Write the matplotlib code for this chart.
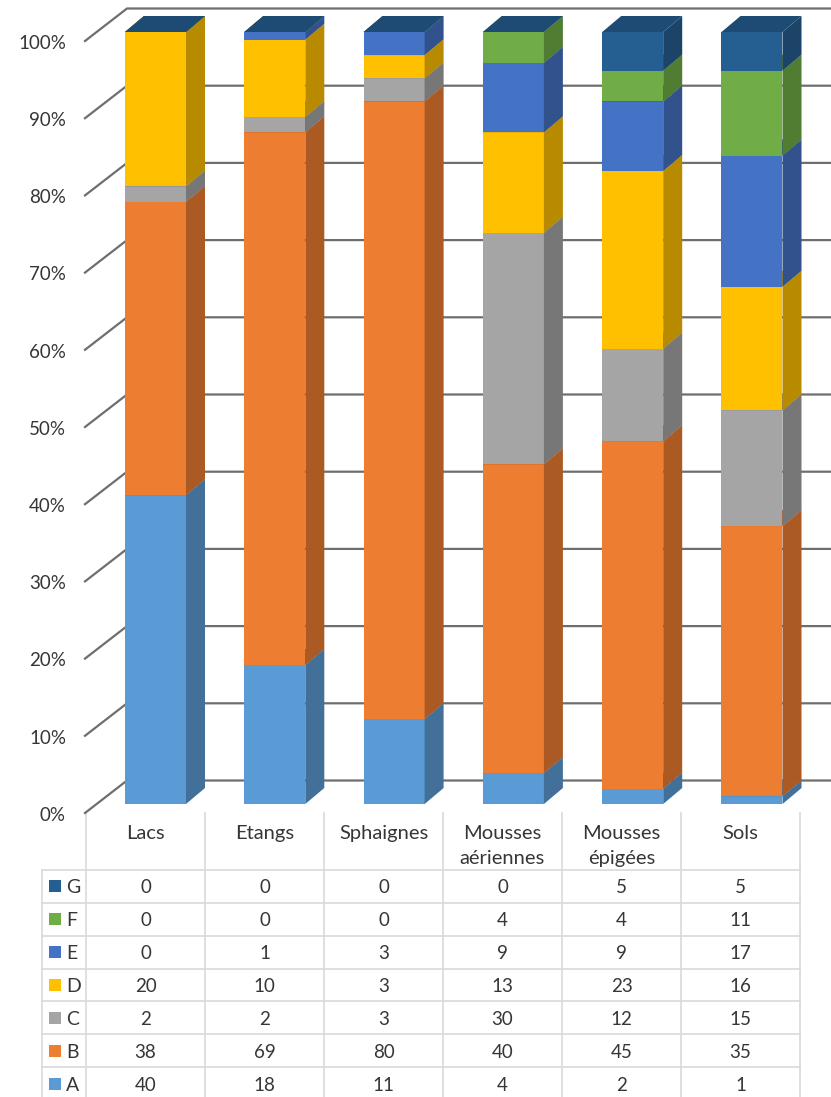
import numpy as np
import matplotlib.pyplot as plt
from matplotlib.patches import Polygon, Rectangle
from matplotlib.colors import to_rgb

plt.rcParams['font.family'] = ['Lato', 'DejaVu Sans']

# data
categories = ['Lacs', 'Etangs', 'Sphaignes', 'Mousses\naériennes', 'Mousses\népigées', 'Sols']
series_names = ['A', 'B', 'C', 'D', 'E', 'F', 'G']
A = [40, 18, 11, 4, 2, 1]
B = [38, 69, 80, 40, 45, 35]
C = [2, 2, 3, 30, 12, 15]
D = [20, 10, 3, 13, 23, 16]
E = [0, 1, 3, 9, 9, 17]
F = [0, 0, 0, 4, 4, 11]
G = [0, 0, 0, 0, 5, 5]
series_values = [A, B, C, D, E, F, G]
colors = ['#5B9BD5', '#ED7D31', '#A5A5A5', '#FFC000', '#4472C4', '#70AD47', '#255E91']
yticks = [0, 10, 20, 30, 40, 50, 60, 70, 80, 90, 100]

# figure geometry (pixels)
W, H = 831, 1097
px_x = 119.3      # pixels per category
px_y = 7.72       # pixels per percent
x0_px = 155.5     # centre of first bar front
y0_px = 804       # bottom of bar fronts
txt_c = '#363636'

fig = plt.figure(figsize=(W / 100, H / 100), dpi=100)

# table layer in pixel coords
tax = fig.add_axes([0, 0, 1, 1])
tax.set_xlim(0, W)
tax.set_ylim(H, 0)
tax.axis('off')

# chart layer in data coords
ax = fig.add_axes([0, 0, 1, 1])
ax.set_xlim(-x0_px / px_x, (W - x0_px) / px_x)
ax.set_ylim(-(H - y0_px) / px_y, y0_px / px_y)
ax.axis('off')

bar_w = 61 / px_x
ddx, ddy = 19 / px_x, 16 / px_y          # bar depth
wall_fx, wall_fy = (85 - x0_px) / px_x, -9 / px_y
wall_bx, wall_by = (127 - x0_px) / px_x, 23.5 / px_y
x_right = (W + 5 - x0_px) / px_x

# gridlines on the side wall and back wall
for p in yticks:
    ax.plot([wall_fx, wall_bx, x_right], [p + wall_fy, p + wall_by, p + wall_by],
            color='#6E6E6E', lw=1.6, zorder=1, solid_joinstyle='miter')
    ax.text((66 - x0_px) / px_x, p + wall_fy - 0.3, f'{p}%', ha='right', va='center',
            fontsize=13.5, color=txt_c)


def shade(c, k):
    r, g, b = to_rgb(c)
    return (r * k, g * k, b * k)


x = np.arange(len(categories))
bottom = np.zeros(len(categories))
z = 3
for name, vals, col in zip(series_names, series_values, colors):
    vals = np.array(vals, dtype=float)
    ax.bar(x, vals, bar_w, bottom=bottom, color=col, lw=0, zorder=z)
    for i in range(len(x)):
        xl, xr = x[i] - bar_w / 2, x[i] + bar_w / 2
        b0, b1 = bottom[i], bottom[i] + vals[i]
        if vals[i] > 0:
            ax.add_patch(Polygon([(xr, b0), (xr + ddx, b0 + ddy), (xr + ddx, b1 + ddy), (xr, b1)],
                                 closed=True, fc=shade(col, 0.72), lw=0, zorder=z))
        ax.add_patch(Polygon([(xl, b1), (xr, b1), (xr + ddx, b1 + ddy), (xl + ddx, b1 + ddy)],
                             closed=True, fc=shade(col, 0.8), lw=0, zorder=z + 0.5))
    bottom = bottom + vals
    z += 1

# data table
col_left, col_w = 86, 119
head_top, head_bot = 813, 870
row_h = (1100 - head_bot) / 7
leg_left = 42
grid_c = '#D9D9D9'
n = len(categories)

for k in range(n + 1):
    tax.plot([col_left + k * col_w] * 2, [head_top, H], color=grid_c, lw=1.2)
tax.plot([leg_left, leg_left], [head_bot, H], color=grid_c, lw=1.2)
for r in range(8):
    yy = head_bot + r * row_h
    tax.plot([leg_left, col_left + n * col_w], [yy, yy], color=grid_c, lw=1.2)

for i, cat in enumerate(categories):
    cx = col_left + (i + 0.5) * col_w
    for j, line in enumerate(cat.split('\n')):
        tax.text(cx, 839 + 25 * j, line, ha='center', va='baseline',
                 fontsize=14.5, color=txt_c)

rows = list(zip(series_names, series_values, colors))[::-1]
for r, (name, vals, col) in enumerate(rows):
    cy = head_bot + (r + 0.5) * row_h
    tax.add_patch(Rectangle((49, cy - 6), 12, 12, fc=col, lw=0))
    tax.text(66, cy, name, ha='left', va='center_baseline', fontsize=14, color=txt_c)
    for i, v in enumerate(vals):
        tax.text(col_left + (i + 0.5) * col_w, cy, str(v), ha='center',
                 va='center_baseline', fontsize=13.5, color=txt_c)

fig.savefig('out.png', dpi=100)
